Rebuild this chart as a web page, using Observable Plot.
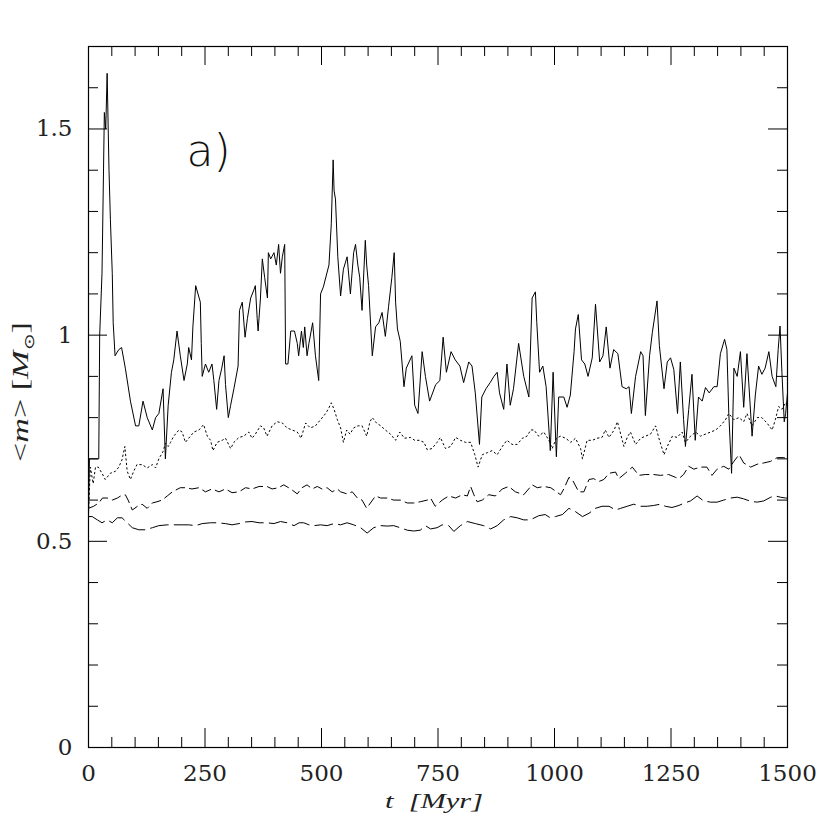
<!DOCTYPE html>
<html>
<head>
<meta charset="utf-8">
<script src="https://cdn.jsdelivr.net/npm/d3@7"></script>
<script src="https://cdn.jsdelivr.net/npm/@observablehq/plot@0.6"></script>
<style>
  html, body { margin: 0; padding: 0; background: #fff; }
  #chart svg { display: block; }
</style>
</head>
<body>
<div id="chart"></div>
<script>
// ---- data: [t (Myr), <m> (Msun)] ----
const solidSeries = [[0,0.56],[2,0.70],[22,0.70],[24,1.00],[29,1.15],[34,1.54],[37,1.50],[40,1.635],[44,1.40],[47,1.28],[51,1.15],[53,1.03],[57,0.95],[65,0.965],[71,0.97],[79,0.92],[90,0.84],[101,0.78],[108,0.78],[117,0.84],[126,0.80],[137,0.77],[144,0.80],[151,0.81],[160,0.87],[165,0.70],[171,0.83],[178,0.91],[183,0.94],[190,1.01],[197,0.95],[205,0.89],[212,0.93],[215,0.97],[221,0.94],[224,1.02],[230,1.12],[240,1.08],[242,0.98],[244,0.90],[251,0.93],[258,0.91],[265,0.93],[269,0.89],[275,0.82],[280,0.89],[286,0.92],[291,0.95],[294,0.88],[300,0.80],[305,0.83],[312,0.87],[321,0.925],[324,1.06],[330,1.08],[336,0.995],[341,1.04],[348,1.09],[355,1.11],[358,1.12],[362,1.04],[364,1.01],[369,1.09],[373,1.185],[378,1.14],[384,1.09],[386,1.20],[391,1.185],[398,1.20],[403,1.17],[408,1.22],[412,1.15],[416,1.19],[421,1.22],[423,0.93],[428,0.93],[434,1.01],[442,1.01],[448,0.98],[451,0.95],[457,1.01],[461,0.97],[464,1.02],[469,0.95],[473,0.98],[481,1.03],[487,0.95],[494,0.89],[498,1.10],[504,1.117],[516,1.17],[521,1.27],[525,1.425],[527,1.35],[530,1.33],[535,1.19],[541,1.095],[547,1.16],[555,1.19],[562,1.10],[569,1.20],[573,1.22],[578,1.17],[582,1.14],[587,1.06],[594,1.23],[597,1.17],[601,1.12],[609,0.95],[616,1.02],[623,1.03],[630,1.055],[637,0.997],[644,1.07],[651,1.14],[656,1.20],[659,1.08],[663,1.015],[669,0.985],[677,0.875],[682,0.92],[694,0.95],[700,0.83],[707,0.81],[716,0.96],[723,0.90],[732,0.84],[745,0.88],[754,0.89],[761,0.995],[768,0.91],[778,0.96],[787,0.94],[797,0.925],[805,0.885],[816,0.935],[823,0.925],[830,0.86],[839,0.735],[844,0.85],[853,0.87],[862,0.885],[870,0.90],[877,0.91],[882,0.86],[891,0.82],[898,0.93],[905,0.83],[912,0.87],[923,0.98],[934,0.90],[945,0.85],[952,1.09],[959,1.105],[962,1.03],[968,0.91],[975,0.925],[982,0.875],[991,0.72],[997,0.91],[1004,0.705],[1009,0.85],[1020,0.85],[1027,0.825],[1034,0.855],[1042,0.96],[1045,1.015],[1051,1.05],[1058,0.94],[1065,0.93],[1072,0.90],[1081,0.945],[1088,1.075],[1097,0.935],[1104,0.95],[1111,1.02],[1119,0.92],[1127,0.965],[1136,0.955],[1145,0.875],[1154,0.87],[1160,0.875],[1165,0.81],[1174,0.90],[1185,0.96],[1190,0.95],[1195,0.805],[1204,0.95],[1210,1.007],[1220,1.083],[1225,0.975],[1235,0.87],[1242,0.935],[1249,0.945],[1256,0.917],[1264,0.81],[1270,0.935],[1277,0.795],[1281,0.73],[1288,0.82],[1295,0.905],[1302,0.745],[1309,0.85],[1317,0.84],[1324,0.873],[1332,0.86],[1342,0.875],[1349,0.875],[1356,0.955],[1365,0.99],[1370,0.965],[1374,0.81],[1380,0.665],[1385,0.92],[1392,0.90],[1399,0.96],[1406,0.825],[1413,0.955],[1424,0.755],[1431,0.855],[1438,0.925],[1445,0.905],[1452,0.92],[1460,0.96],[1467,0.90],[1475,0.875],[1480,0.965],[1484,1.022],[1488,0.91],[1493,0.79],[1496,0.81],[1500,0.86]];

const dottedSeries = [[0,0.57],[4,0.68],[10,0.64],[15,0.68],[21,0.68],[29,0.665],[36,0.65],[47,0.665],[58,0.67],[65,0.68],[72,0.698],[78,0.73],[83,0.67],[90,0.65],[97,0.67],[104,0.686],[115,0.686],[126,0.678],[137,0.686],[144,0.678],[151,0.70],[160,0.718],[165,0.738],[171,0.73],[176,0.74],[183,0.755],[194,0.77],[201,0.765],[208,0.74],[215,0.75],[226,0.765],[237,0.77],[247,0.783],[255,0.755],[262,0.745],[267,0.72],[276,0.74],[287,0.745],[294,0.75],[305,0.725],[312,0.74],[323,0.752],[333,0.755],[344,0.765],[351,0.75],[358,0.76],[369,0.78],[376,0.775],[383,0.755],[394,0.78],[405,0.79],[416,0.787],[426,0.775],[437,0.77],[448,0.765],[456,0.75],[466,0.787],[476,0.775],[487,0.78],[498,0.795],[509,0.81],[516,0.824],[521,0.836],[527,0.82],[534,0.795],[541,0.775],[547,0.74],[554,0.77],[561,0.76],[569,0.775],[578,0.78],[587,0.78],[597,0.755],[604,0.79],[609,0.80],[618,0.787],[627,0.78],[637,0.77],[648,0.76],[659,0.745],[668,0.765],[678,0.75],[691,0.752],[700,0.745],[710,0.745],[720,0.74],[727,0.722],[737,0.725],[748,0.74],[755,0.752],[766,0.725],[777,0.73],[788,0.752],[798,0.745],[809,0.74],[820,0.74],[829,0.71],[836,0.68],[845,0.71],[856,0.715],[866,0.72],[877,0.71],[888,0.73],[898,0.745],[909,0.735],[920,0.735],[931,0.75],[941,0.755],[949,0.77],[956,0.77],[966,0.755],[977,0.765],[988,0.745],[995,0.725],[1004,0.75],[1013,0.755],[1024,0.75],[1035,0.74],[1045,0.75],[1056,0.725],[1060,0.70],[1070,0.745],[1081,0.745],[1092,0.75],[1102,0.752],[1109,0.77],[1117,0.752],[1128,0.77],[1135,0.79],[1142,0.76],[1149,0.73],[1156,0.752],[1163,0.765],[1174,0.735],[1185,0.75],[1195,0.755],[1206,0.76],[1217,0.78],[1224,0.75],[1235,0.71],[1242,0.73],[1253,0.755],[1263,0.752],[1274,0.765],[1281,0.74],[1292,0.755],[1303,0.765],[1313,0.755],[1324,0.76],[1335,0.765],[1346,0.77],[1356,0.78],[1367,0.795],[1374,0.81],[1385,0.795],[1396,0.80],[1406,0.79],[1413,0.81],[1424,0.78],[1435,0.80],[1445,0.80],[1456,0.787],[1467,0.77],[1474,0.795],[1481,0.827],[1488,0.82],[1496,0.836],[1500,0.83]];

const dashedSeries = [[0,0.58],[11,0.585],[22,0.593],[30,0.605],[40,0.605],[51,0.60],[62,0.605],[69,0.61],[79,0.613],[85,0.60],[94,0.576],[105,0.585],[115,0.59],[126,0.58],[137,0.593],[147,0.596],[158,0.60],[169,0.61],[180,0.62],[197,0.63],[208,0.63],[222,0.627],[237,0.63],[251,0.62],[265,0.627],[280,0.62],[294,0.627],[308,0.618],[323,0.62],[337,0.63],[351,0.627],[366,0.633],[383,0.633],[394,0.627],[408,0.63],[419,0.637],[434,0.627],[448,0.615],[458,0.63],[469,0.637],[480,0.627],[491,0.633],[501,0.627],[512,0.63],[523,0.62],[534,0.627],[541,0.62],[555,0.615],[566,0.62],[577,0.605],[587,0.60],[597,0.58],[605,0.593],[616,0.61],[627,0.605],[641,0.605],[655,0.60],[669,0.60],[684,0.593],[698,0.593],[712,0.596],[727,0.60],[734,0.605],[744,0.585],[759,0.60],[773,0.61],[788,0.605],[802,0.613],[813,0.61],[820,0.633],[827,0.613],[834,0.596],[845,0.60],[859,0.613],[873,0.61],[888,0.627],[902,0.633],[916,0.62],[934,0.613],[952,0.637],[963,0.63],[977,0.633],[992,0.63],[1013,0.613],[1020,0.627],[1031,0.655],[1038,0.65],[1052,0.62],[1063,0.62],[1074,0.65],[1084,0.652],[1095,0.645],[1106,0.65],[1117,0.665],[1131,0.668],[1138,0.652],[1152,0.665],[1167,0.68],[1181,0.66],[1195,0.662],[1213,0.662],[1227,0.66],[1245,0.662],[1260,0.655],[1267,0.652],[1277,0.662],[1288,0.682],[1299,0.675],[1313,0.68],[1327,0.68],[1338,0.66],[1349,0.675],[1363,0.682],[1374,0.675],[1385,0.694],[1396,0.71],[1406,0.69],[1421,0.68],[1435,0.687],[1449,0.69],[1464,0.694],[1478,0.703],[1492,0.703],[1500,0.70]];

const longDashSeries = [[0,0.56],[8,0.56],[19,0.552],[29,0.545],[40,0.552],[51,0.545],[62,0.557],[72,0.557],[83,0.545],[94,0.533],[108,0.528],[122,0.528],[137,0.533],[151,0.538],[169,0.54],[183,0.54],[201,0.54],[215,0.54],[230,0.538],[244,0.543],[262,0.545],[276,0.545],[294,0.543],[308,0.54],[323,0.543],[337,0.547],[351,0.548],[366,0.545],[383,0.545],[398,0.543],[412,0.548],[426,0.545],[441,0.538],[452,0.545],[462,0.545],[473,0.54],[484,0.538],[498,0.54],[512,0.538],[527,0.543],[541,0.54],[555,0.545],[569,0.54],[584,0.533],[598,0.52],[612,0.533],[627,0.538],[641,0.537],[655,0.538],[669,0.533],[684,0.527],[698,0.525],[712,0.527],[723,0.538],[734,0.53],[748,0.533],[759,0.54],[773,0.538],[784,0.524],[798,0.538],[813,0.548],[830,0.543],[848,0.538],[863,0.53],[877,0.538],[891,0.552],[906,0.56],[920,0.557],[934,0.552],[948,0.552],[966,0.562],[980,0.565],[991,0.557],[1002,0.56],[1017,0.565],[1031,0.58],[1045,0.572],[1060,0.56],[1074,0.568],[1088,0.58],[1102,0.585],[1117,0.585],[1131,0.576],[1142,0.58],[1156,0.585],[1170,0.59],[1185,0.585],[1199,0.585],[1213,0.587],[1227,0.59],[1238,0.585],[1252,0.582],[1267,0.587],[1277,0.592],[1292,0.598],[1306,0.61],[1320,0.598],[1335,0.595],[1349,0.595],[1363,0.60],[1378,0.605],[1392,0.607],[1406,0.603],[1421,0.597],[1435,0.595],[1449,0.598],[1464,0.607],[1474,0.61],[1485,0.607],[1496,0.605],[1500,0.605]];

// ---- ticks and labels ----
const xMajor = [0, 250, 500, 750, 1000, 1250, 1500];
const xTickLabels = ["0", "250", "500", "750", "1000", "1250", "1500"];
const xMinor = [50,100,150,200,300,350,400,450,550,600,650,700,800,850,900,950,1050,1100,1150,1200,1300,1350,1400,1450];
const yMajor = [0, 0.5, 1, 1.5];
const yTickLabels = ["0", "0.5", "1", "1.5"];
const yMinor = [0.1,0.2,0.3,0.4,0.6,0.7,0.8,0.9,1.1,1.2,1.3,1.4,1.6];
const panelLabel = ["a)"];

// ---- layout ----
const W = 830, H = 833;
const mL = 88, mR = 43, mT = 46, mB = 86;
const pw = W - mL - mR, ph = H - mT - mB;
const majorLen = 19, minorLen = 10;

const series = [
  {data: solidSeries, dash: null},
  {data: dottedSeries, dash: "1.5,3"},
  {data: dashedSeries, dash: "9,5"},
  {data: longDashSeries, dash: "18,6"}
];

const tickStyle = {stroke: "black", strokeWidth: 1};

const chart = Plot.plot({
  width: W, height: H,
  marginLeft: mL, marginRight: mR, marginTop: mT, marginBottom: mB,
  x: {domain: [0, 1500]},
  y: {domain: [0, 1.7]},
  style: {fontFamily: "DejaVu Serif", background: "white", color: "black"},
  marks: [
    ...series.map(s => Plot.line(s.data, {x: d => d[0], y: d => d[1], stroke: "black", strokeWidth: 1, strokeDasharray: s.dash})),
    // bottom & top ticks
    Plot.ruleX(xMajor, {x: d => d, insetTop: ph - majorLen, ...tickStyle}),
    Plot.ruleX(xMajor, {x: d => d, insetBottom: ph - majorLen, ...tickStyle}),
    Plot.ruleX(xMinor, {x: d => d, insetTop: ph - minorLen, ...tickStyle}),
    Plot.ruleX(xMinor, {x: d => d, insetBottom: ph - minorLen, ...tickStyle}),
    // left & right ticks
    Plot.ruleY(yMajor, {y: d => d, insetRight: pw - majorLen, ...tickStyle}),
    Plot.ruleY(yMajor, {y: d => d, insetLeft: pw - majorLen, ...tickStyle}),
    Plot.ruleY(yMinor, {y: d => d, insetRight: pw - minorLen, ...tickStyle}),
    Plot.ruleY(yMinor, {y: d => d, insetLeft: pw - minorLen, ...tickStyle}),
    Plot.frame({stroke: "black", strokeWidth: 1.2}),
    Plot.axisX(xMajor, {anchor: "bottom", tickSize: 0, tickPadding: 17, fontSize: 23, fill: "#222",
      tickFormat: d => xTickLabels[xMajor.indexOf(d)]}),
    Plot.axisY(yMajor, {anchor: "left", tickSize: 0, tickPadding: 16, fontSize: 23, fill: "#222",
      tickFormat: d => yTickLabels[yMajor.indexOf(d)]}),
    Plot.text(panelLabel, {text: d => d, frameAnchor: "top-left", dx: 98, dy: 88, textAnchor: "start",
      fontSize: 44, fontFamily: "DejaVu Sans", fontWeight: 200, fill: "#111"})
  ]
});

document.getElementById("chart").appendChild(chart);

// axis titles
const svg = d3.select(chart);
svg.append("text")
  .attr("x", 434).attr("y", 808)
  .attr("text-anchor", "middle")
  .attr("font-family", "Liberation Serif")
  .attr("font-size", 22)
  .attr("font-style", "italic")
  .attr("fill", "#222")
  .attr("textLength", 98).attr("lengthAdjust", "spacingAndGlyphs")
  .text("t\u2002[Myr]");

const yt = svg.append("text")
  .attr("transform", "translate(28,392) rotate(-90)")
  .attr("text-anchor", "middle")
  .attr("font-family", "Liberation Serif")
  .attr("font-size", 24)
  .attr("fill", "#222")
  .attr("textLength", 140).attr("lengthAdjust", "spacingAndGlyphs");
yt.append("tspan").text("<");
yt.append("tspan").attr("font-style", "italic").text("m");
yt.append("tspan").text("> [");
yt.append("tspan").attr("font-style", "italic").text("M");
yt.append("tspan").attr("font-size", 14).attr("dy", 6).text("\u2299");
yt.append("tspan").attr("dy", -6).text("]");
</script>
</body>
</html>
